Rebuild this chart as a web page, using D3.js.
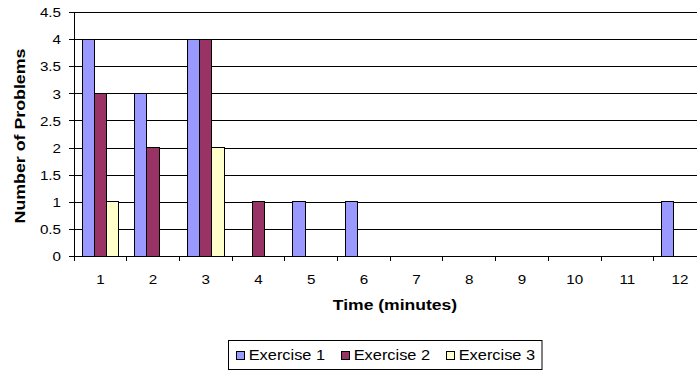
<!DOCTYPE html>
<html>
<head>
<meta charset="utf-8">
<script src="https://cdn.jsdelivr.net/npm/d3@7"></script>
<style>
  html, body { margin: 0; padding: 0; background: #fff; }
  svg { display: block; }
  text { font-family: "Liberation Sans", Arial, sans-serif; fill: #000; }
</style>
</head>
<body>
<svg id="chart" width="697" height="373"></svg>
<script>
const categories = ["1","2","3","4","5","6","7","8","9","10","11","12"];
const exercise1 = [4, 3, 4, 0, 1, 1, 0, 0, 0, 0, 0, 1];
const exercise2 = [3, 2, 4, 1, 0, 0, 0, 0, 0, 0, 0, 0];
const exercise3 = [1, 0, 2, 0, 0, 0, 0, 0, 0, 0, 0, 0];
const seriesNames = ["Exercise 1", "Exercise 2", "Exercise 3"];
const seriesColors = ["#9999FF", "#993366", "#FFFFCC"];
const yTickValues = [0, 0.5, 1, 1.5, 2, 2.5, 3, 3.5, 4, 4.5];
const yTitle = "Number of Problems";
const xTitle = "Time (minutes)";

const series = [exercise1, exercise2, exercise3];
const SX = 1.17; // horizontal text stretch seen in the reference

const svg = d3.select("#chart");
const plotLeft = 74, plotTop = 12, plotBottom = 256;
const step = 52.7;
const plotRight = plotLeft + step * categories.length;

const x0 = d3.scaleBand().domain(categories).range([plotLeft, plotRight]).padding(0);
const x1 = d3.scaleBand().domain(seriesNames).range([0, x0.bandwidth()]).paddingInner(0).paddingOuter(0.66);
const y = d3.scaleLinear().domain([0, 4.5]).range([plotBottom, plotTop]);

// gridlines
const grid = svg.append("g").attr("transform", `translate(${plotLeft},0)`)
  .call(d3.axisLeft(y).tickValues(yTickValues).tickSize(-(plotRight - plotLeft)).tickFormat(""));
grid.select(".domain").remove();
grid.selectAll("line").attr("stroke", "#000").attr("shape-rendering", "crispEdges");

// bars
const rows = categories.map((c, i) => ({ c, vals: series.map((s, j) => ({ name: seriesNames[j], v: s[i], col: seriesColors[j] })) }));
svg.append("g").selectAll("g").data(rows).join("g")
  .attr("transform", d => `translate(${x0(d.c)},0)`)
  .selectAll("rect").data(d => d.vals.filter(v => v.v > 0)).join("rect")
  .attr("x", d => x1(d.name))
  .attr("width", x1.bandwidth())
  .attr("y", d => y(d.v))
  .attr("height", d => y(0) - y(d.v))
  .attr("fill", d => d.col)
  .attr("stroke", "#000")
  .attr("stroke-width", 1)
  .attr("shape-rendering", "crispEdges");

// y axis
const yAxis = svg.append("g").attr("transform", `translate(${plotLeft},0)`)
  .call(d3.axisLeft(y).tickValues(yTickValues).tickSize(5).tickSizeOuter(0).tickFormat(d3.format("")));
yAxis.selectAll("line, path").attr("stroke", "#000").attr("shape-rendering", "crispEdges");
yAxis.selectAll("text")
  .attr("x", -13 / SX)
  .attr("dy", "0.36em")
  .attr("transform", `scale(${SX},1)`)
  .style("font-size", "13px");

// x axis
const xAxis = svg.append("g").attr("transform", `translate(0,${plotBottom})`)
  .call(d3.axisBottom(x0).tickSize(0).tickSizeOuter(0));
xAxis.select(".domain").attr("stroke", "#000").attr("shape-rendering", "crispEdges");
xAxis.selectAll(".tick text")
  .attr("y", 28)
  .attr("dy", 0)
  .attr("x", 0)
  .attr("transform", `scale(${SX},1)`)
  .style("font-size", "13px");
// boundary ticks
svg.append("g").selectAll("line").data(categories).join("line")
  .attr("x1", d => x0(d)).attr("x2", d => x0(d))
  .attr("y1", plotBottom).attr("y2", plotBottom + 5)
  .attr("stroke", "#000").attr("shape-rendering", "crispEdges");

// top border
svg.append("line").attr("x1", plotLeft).attr("x2", plotRight).attr("y1", plotTop).attr("y2", plotTop)
  .attr("stroke", "#000").attr("shape-rendering", "crispEdges");

// titles
svg.append("text")
  .attr("transform", `translate(395,310) scale(${SX},1)`)
  .attr("text-anchor", "middle")
  .style("font-size", "15px").style("font-weight", "bold")
  .text(xTitle);
svg.append("text")
  .attr("transform", `translate(25,136) rotate(-90) scale(${SX},1)`)
  .attr("text-anchor", "middle")
  .style("font-size", "15.2px").style("font-weight", "bold")
  .text(yTitle);

// legend
const legend = svg.append("g");
legend.append("rect").attr("x", 228.5).attr("y", 340.5).attr("width", 313.5).attr("height", 29)
  .attr("fill", "#fff").attr("stroke", "#000").attr("stroke-width", 1);
const items = legend.selectAll("g.item").data(seriesNames).join("g")
  .attr("class", "item")
  .attr("transform", (d, i) => `translate(${236 + i * 105},0)`);
items.append("rect").attr("x", 0.5).attr("y", 351.5).attr("width", 8).attr("height", 8)
  .attr("fill", (d, i) => seriesColors[i]).attr("stroke", "#000").attr("stroke-width", 1);
items.append("text")
  .attr("transform", `translate(12.7,360) scale(${SX},1)`)
  .style("font-size", "14px")
  .text(d => d);
</script>
</body>
</html>
